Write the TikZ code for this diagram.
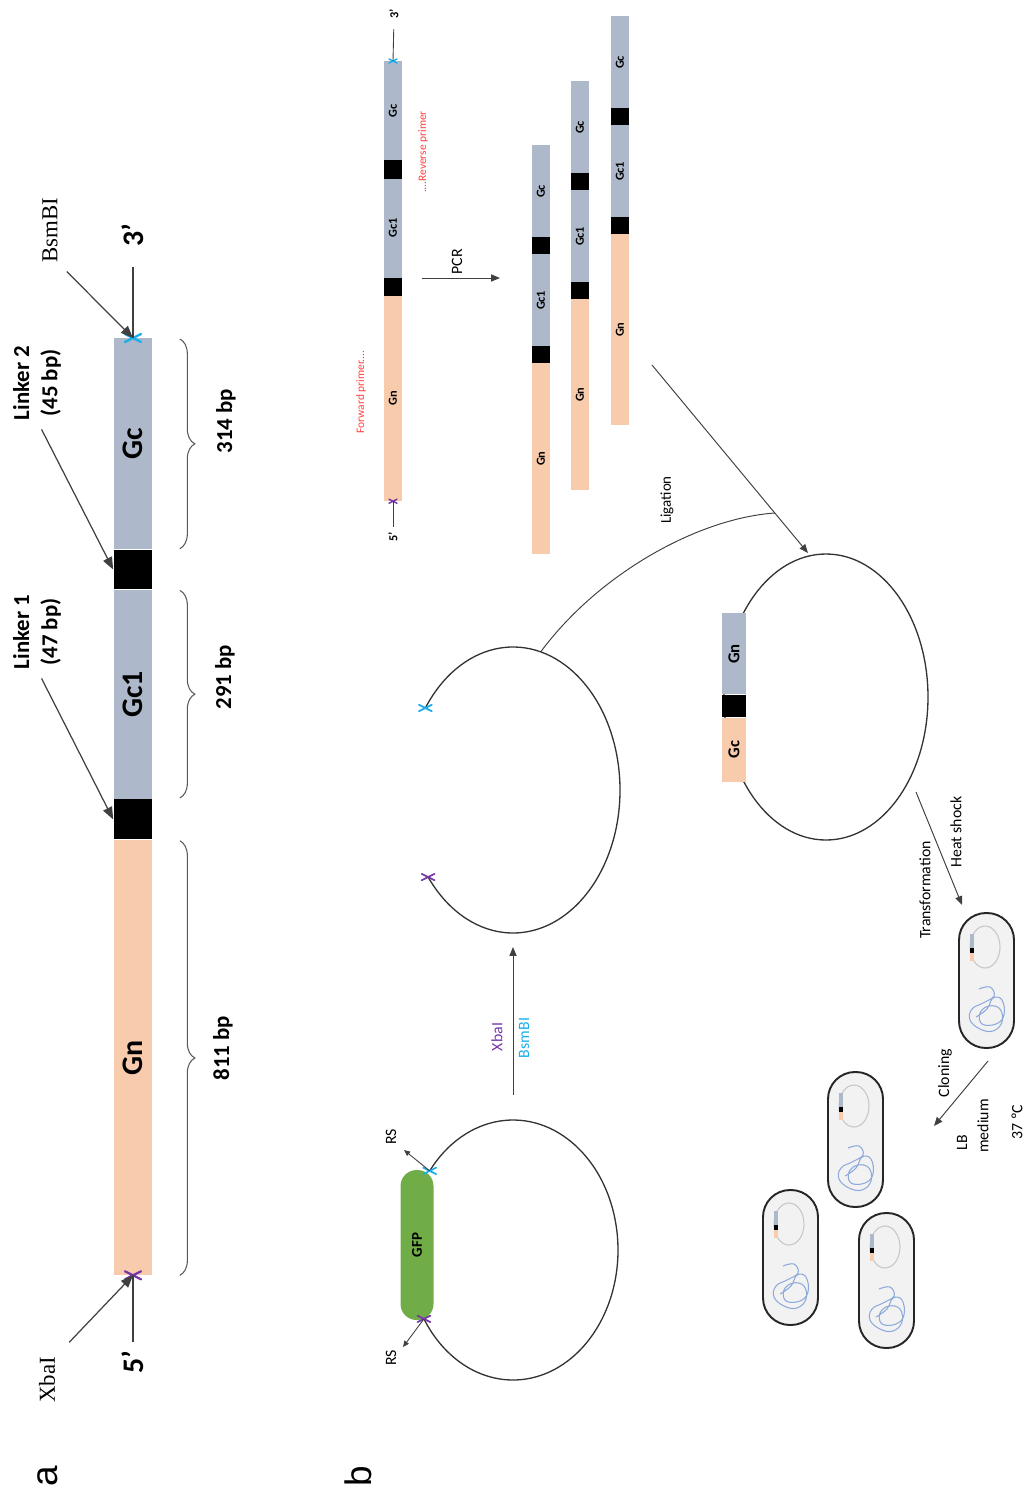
\documentclass[tikz,border=0pt]{standalone}
\usepackage{fontspec}
\usepackage{graphicx}
\setmainfont{Liberation Serif}
\setsansfont{Carlito}
\newfontfamily\panelfont{Liberation Sans}
\usetikzlibrary{positioning, arrows.meta, calc, decorations.pathreplacing}

\definecolor{gcgray}{HTML}{ADB9CA}
\definecolor{gnpeach}{HTML}{F8CBAD}
\definecolor{gfpgreen}{HTML}{70AD47}
\definecolor{bsmcyan}{HTML}{1AAFEA}
\definecolor{xbapurple}{HTML}{7536A8}
\definecolor{primerred}{HTML}{FF4040}
\definecolor{cellgray}{HTML}{F2F2F2}
\definecolor{dnablue}{HTML}{8EAADB}
\definecolor{inkgray}{HTML}{404040}

\newcommand{\fsz}[1]{\fontsize{#1}{#1}\selectfont}

\begin{document}
\begin{tikzpicture}[
  x=0.02cm, y=-0.02cm,
  font=\sffamily,
  % Bar segments
  segbox/.style={rectangle, inner sep=0pt, anchor=north, minimum width=0.78cm, font=\sffamily\bfseries\fsz{17}},
  minibox/.style={rectangle, inner sep=0pt, anchor=north, minimum width=0.36cm, font=\sffamily\bfseries\fsz{7}},
  insbox/.style={rectangle, inner sep=0pt, anchor=north, minimum width=0.48cm, font=\sffamily\bfseries\fsz{9.5}},
  vlabel/.style={rotate=90, inner sep=0pt},
  % Connectors
  ptr/.style={draw=inkgray, line width=0.7pt, -{Triangle[length=7pt, width=5.5pt]}},
  thinptr/.style={draw=inkgray, line width=0.55pt, -{Triangle[length=5pt, width=4pt]}},
  tinyptr/.style={draw=inkgray, line width=0.5pt, -{Triangle[length=3.5pt, width=3pt]}},
  tick/.style={draw=inkgray, line width=0.7pt},
  bp/.style={draw=black!65, line width=0.6pt, decorate, decoration={brace, amplitude=0.3cm}},
  plasmid/.style={draw=black!80, line width=0.75pt},
  cellwall/.style={draw=black!85, line width=1.1pt, fill=cellgray, rounded corners=0.54cm},
  % Pics
  pics/cutsite/.style={code={
    \draw[#1, line cap=round] (-8,-4) -- (8,4) (-8,4) -- (8,-4);
  }},
  pics/dnabar/.style={code={
    \node[minibox, fill=gcgray, minimum height=#1*0.02cm] (-gc) at (0,0) {\rotatebox{90}{Gc}};
    \node[minibox, fill=black, minimum height=0.185*#1*0.02cm] (-lk2) at (0,#1) {};
    \node[minibox, fill=gcgray, minimum height=#1*0.02cm] (-gc1) at (0,{1.185*#1}) {\rotatebox{90}{Gc1}};
    \node[minibox, fill=black, minimum height=0.185*#1*0.02cm] (-lk1) at (0,{2.185*#1}) {};
    \node[minibox, fill=gnpeach, minimum height=2.07*#1*0.02cm] (-gn) at (0,{2.37*#1}) {\rotatebox{90}{Gn}};
  }},
  pics/ecoli/.style={code={
    \draw[cellwall] (0,0) rectangle (55,135);
    \draw[draw=black!22, line width=0.6pt] (26,34) ellipse [x radius=15, y radius=21];
    \fill[gcgray] (11,21) rectangle (14.5,35);
    \fill[black] (11,35) rectangle (14.5,40);
    \fill[gnpeach] (11,40) rectangle (14.5,48);
    \draw[dnablue, line width=0.6pt] plot[smooth, tension=0.7] coordinates {
      (20,76) (31,74) (35,83) (24,90) (13,96) (11,107) (21,116) (34,118)
      (43,109) (41,96) (30,93) (21,100) (23,111) (37,111) (45,102) (43,87)
      (34,85) (28,96) (17,104)};
  }}
]

  \useasboundingbox (0,0) rectangle (1024,1488);

  % ==========================================
  % PANEL a: Gn - Gc1 - Gc construct
  % ==========================================
  \node[segbox, fill=gcgray, minimum height=4.22cm] (gcA) at (133,338) {\rotatebox{90}{Gc}};
  \node[segbox, fill=black, minimum height=0.78cm, below=0pt of gcA] (lk2A) {};
  \node[segbox, fill=gcgray, minimum height=4.18cm, below=0pt of lk2A] (gc1A) {\rotatebox{90}{Gc1}};
  \node[segbox, fill=black, minimum height=0.80cm, below=0pt of gc1A] (lk1A) {};
  \node[segbox, fill=gnpeach, minimum height=8.70cm, below=0pt of lk1A] (gnA) {\rotatebox{90}{Gn}};

  \pic[line width=1.3pt] at (gcA.north) {cutsite=bsmcyan};
  \pic[line width=1.3pt] at (gnA.south) {cutsite=xbapurple};

  % Size braces
  \draw[bp] ($(gcA.north east)+(27,1)$) -- ($(gcA.south east)+(27,-1)$);
  \draw[bp] ($(gc1A.north east)+(27,1)$) -- ($(gc1A.south east)+(27,-1)$);
  \draw[bp] ($(gnA.north east)+(27,1)$) -- ($(gnA.south east)+(27,0)$);
  \node[vlabel, font=\sffamily\bfseries\fsz{13}] (bpGc) at (226,421) {314 bp};
  \node[vlabel, font=\sffamily\bfseries\fsz{13}] (bpGc1) at (225,677) {291 bp};
  \node[vlabel, font=\sffamily\bfseries\fsz{13}] (bpGn) at (223,1048) {811 bp};

  % Ends and restriction sites
  \node[vlabel, font=\sffamily\bfseries\fsz{17}] (end3A) at (133,235) {3’};
  \node[vlabel, font=\sffamily\bfseries\fsz{17}] (end5A) at (133,1362) {5’};
  \draw[tick, shorten <=0.4cm] (end3A.west) -- (gcA.north);
  \draw[tick, shorten <=0.16cm] (end5A.east) -- (gnA.south);

  \node[vlabel, font=\rmfamily\fsz{13}] (bsmA) at (50,230) {BsmBI};
  \node[vlabel, font=\rmfamily\fsz{13}] (xbaA) at (47,1380) {XbaI};
  \draw[ptr, shorten <=0.25cm] (bsmA.south west) -- (gcA.north);
  \draw[ptr, shorten <=0.4cm] (xbaA.south east) -- (gnA.south);

  % Linkers
  \node[vlabel, align=center, font=\sffamily\bfseries\fontsize{13}{16}\selectfont] (lk2lab) at (37,383) {Linker 2\\(45 bp)};
  \node[vlabel, align=center, font=\sffamily\bfseries\fontsize{13}{16}\selectfont] (lk1lab) at (37,632) {Linker 1\\(47 bp)};
  \draw[ptr, shorten <=0.2cm] (lk2lab.west) -- (lk2A.west);
  \draw[ptr, shorten <=0.2cm] (lk1lab.west) -- (lk1A.west);

  \node[vlabel, font=\panelfont\fsz{21}] (panelA) at (48,1476) {a};

  % ==========================================
  % PANEL b: PCR, ligation and cloning
  % ==========================================
  \node[vlabel, font=\panelfont\fsz{21}] (panelB) at (358,1476) {b};

  % Template and primers
  \pic (tmpl) at (393,61) {dnabar=99};
  \pic[scale=0.5, line width=0.8pt] at (tmpl-gc.north) {cutsite=bsmcyan};
  \pic[scale=0.5, line width=0.8pt] at (tmpl-gn.south) {cutsite=xbapurple};
  \node[vlabel, font=\sffamily\bfseries\fsz{7}] (end3B) at (394,14) {3’};
  \node[vlabel, font=\sffamily\bfseries\fsz{7}] (end5B) at (393,537) {5’};
  \draw[tick, line width=0.5pt, shorten <=0.2cm] (end3B.west) -- (tmpl-gc.north);
  \draw[tick, line width=0.5pt, shorten <=0.1cm] (end5B.east) -- (tmpl-gn.south);

  \node[vlabel, text=primerred, font=\sffamily\fsz{6.5}] (fwd) at (361,392) {Forward primer....};
  \node[vlabel, text=primerred, font=\sffamily\fsz{6.5}] (rev) at (423,152) {....Reverse primer};

  % PCR products
  \coordinate (pcrFrom) at (422,278);
  \coordinate (pcrTo) at (500,278);
  \draw[thinptr] (pcrFrom) -- (pcrTo);
  \node[vlabel, font=\sffamily\fsz{9}] (pcrlab) at (457,262) {PCR};

  \pic (prodA) at (541,145) {dnabar=92};
  \pic (prodB) at (580,81) {dnabar=92};
  \pic (prodC) at (620,16) {dnabar=92};

  % Vector with GFP
  \coordinate (vecC) at (513,1250);
  \coordinate (vecBsm) at ($(vecC)+(217.5:105 and 130)$);
  \coordinate (vecXba) at ($(vecC)+(148:105 and 130)$);
  \draw[plasmid] (vecBsm) arc[start angle=217.5, end angle=508, x radius=105, y radius=130];
  \node[fill=gfpgreen, rounded corners=0.32cm, minimum width=0.66cm, minimum height=3.0cm, inner sep=0pt, font=\sffamily\bfseries\fsz{8.5}] (gfp) at (417,1245) {\rotatebox{90}{GFP}};
  \pic[scale=0.8, line width=1pt] at (vecBsm) {cutsite=bsmcyan};
  \pic[scale=0.8, line width=1pt] at (vecXba) {cutsite=xbapurple};

  \node[vlabel, font=\sffamily\fsz{9}] (rsTop) at (391,1137) {RS};
  \node[vlabel, font=\sffamily\fsz{9}] (rsBot) at (391,1358) {RS};
  \coordinate (rsTopTip) at (404,1150);
  \coordinate (rsBotTip) at (403,1347);
  \draw[tinyptr] (vecBsm) -- (rsTopTip);
  \draw[tinyptr] (vecXba) -- (rsBotTip);

  % Digested vector
  \coordinate (cutC) at (513,790);
  \coordinate (cutBsm) at ($(cutC)+(215:107 and 143)$);
  \coordinate (cutXba) at ($(cutC)+(142.5:107 and 143)$);
  \coordinate (cutTop) at ($(cutC)+(285:107 and 143)$);
  \coordinate (cutBot) at ($(cutC)+(90:107 and 143)$);
  \draw[plasmid] (cutBsm) arc[start angle=215, end angle=502.5, x radius=107, y radius=143];
  \pic[scale=0.8, line width=1pt] at (cutBsm) {cutsite=bsmcyan};
  \pic[scale=0.8, line width=1pt] at (cutXba) {cutsite=xbapurple};

  \coordinate (digFrom) at (513,1095);
  \draw[thinptr, shorten >=0.28cm] (digFrom) -- (cutBot);
  \node[vlabel, text=xbapurple, font=\sffamily\fsz{9}] (xbaB) at (497,1037) {XbaI};
  \node[vlabel, text=bsmcyan, font=\sffamily\fsz{9}] (bsmB) at (524,1038) {BsmBI};

  % Ligation into the vector
  \coordinate (ligFrom) at (652,365);
  \coordinate (ligTo) at (808,553);
  \coordinate (ligJoin) at (775,513);
  \draw[thinptr] (ligFrom) -- (ligTo);
  \draw[draw=inkgray, line width=0.55pt] (cutTop) .. controls (600,572) and (700,518) .. (ligJoin);
  \node[vlabel, font=\sffamily\fsz{8.5}] (liglab) at (667,500) {Ligation};

  % Recombinant plasmid
  \coordinate (recC) at (826,697);
  \draw[plasmid] (recC) ellipse [x radius=102, y radius=143];
  \node[insbox, fill=gcgray, minimum height=1.62cm] (insGn) at (734,613) {\rotatebox{90}{Gn}};
  \node[insbox, fill=black, minimum height=0.44cm, below=0pt of insGn] (insLk) {};
  \node[insbox, fill=gnpeach, minimum height=1.28cm, below=0pt of insLk] (insGc) {\rotatebox{90}{Gc}};

  % Transformation and cloning
  \coordinate (trFrom) at (916,792);
  \coordinate (trTo) at (962,905);
  \draw[thinptr] (trFrom) -- (trTo);
  \node[vlabel, font=\sffamily\fsz{9}] (trlab) at (925,890) {Transformation};
  \node[vlabel, font=\sffamily\fsz{9}] (hslab) at (956,832) {Heat shock};

  \pic (cell0) at (959,913) {ecoli};

  \coordinate (clFrom) at (988,1061);
  \coordinate (clTo) at (934,1126);
  \draw[thinptr] (clFrom) -- (clTo);
  \node[vlabel, font=\sffamily\fsz{9}] (cllab) at (945,1073) {Cloning};
  \node[vlabel, font=\sffamily\fsz{9}] (lblab) at (962,1143) {LB};
  \node[vlabel, font=\sffamily\fsz{9}] (medlab) at (983,1126) {medium};
  \node[vlabel, font=\sffamily\fsz{9}] (templab) at (1017,1122) {37 ºC};

  \pic (cell1) at (828,1072) {ecoli};
  \pic (cell2) at (763,1190) {ecoli};
  \pic (cell3) at (859,1213) {ecoli};

\end{tikzpicture}
\end{document}
